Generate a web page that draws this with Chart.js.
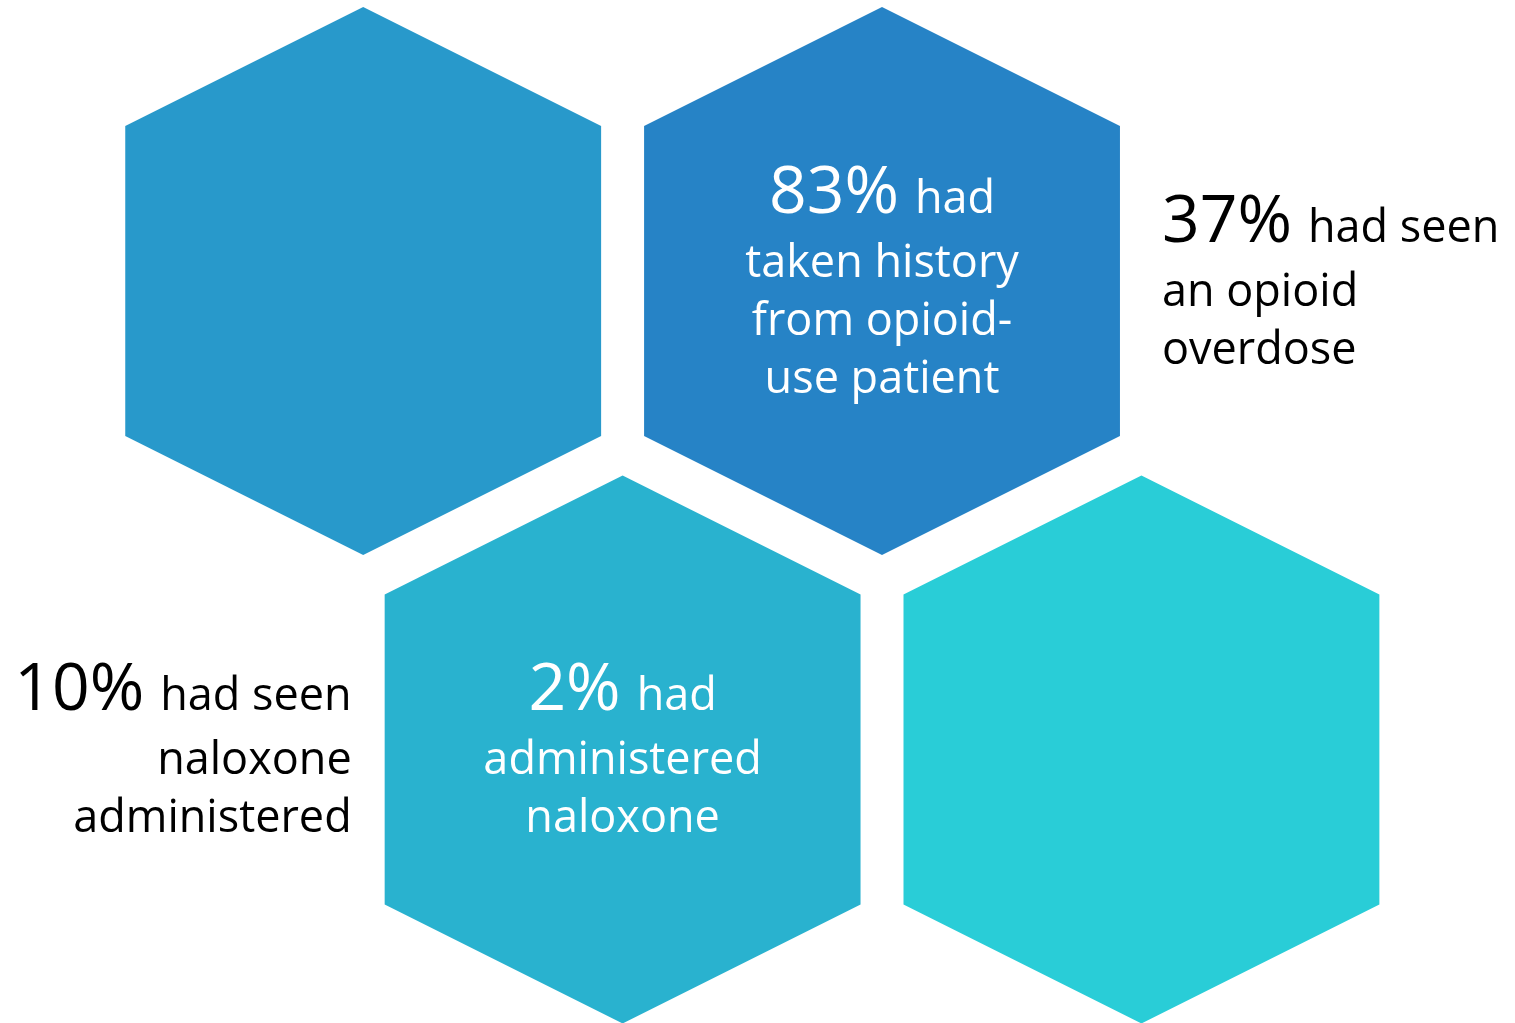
<!DOCTYPE html>
<html>
<head>
<meta charset="utf-8">
<script src="https://cdn.jsdelivr.net/npm/chart.js@4.4.1/dist/chart.umd.min.js"></script>
<style>
  html, body { margin: 0; padding: 0; background: #ffffff; overflow: hidden; }
  #wrap { width: 1515px; height: 1023px; }
</style>
</head>
<body>
<div id="wrap"><canvas id="hexChart" width="1515" height="1023"></canvas></div>
<script>
// hexagon grid (column, row) and fill colours
const hexCols = [0, 1, 0.5, 1.5];
const hexRows = [0, 0, 1, 1];
const hexColors = ["#2899cb", "#2683c6", "#29b2cf", "#29cdd7"];

// survey results
const statValues = [83, 37, 10, 2];
const statLines = [
  ["had", "taken history", "from opioid-", "use patient"],
  ["had seen", "an opioid", "overdose"],
  ["had seen", "naloxone", "administered"],
  ["had", "administered", "naloxone"]
];
const statHex = [1, 1, 2, 2];
const statPlace = ["inside", "right", "left", "inside"];

// hexagon shape in axis units
const HEX_W = 0.4586, HEX_TIP = 0.585, HEX_SHOULDER = 0.331;
const FONT = "'Open Sans', sans-serif";

function hexSize(chart, i) {
  const { x, y } = chart.scales;
  const cx = x.getPixelForValue(hexCols[i]);
  const cy = y.getPixelForValue(hexRows[i]);
  return {
    cx, cy,
    hw: Math.abs(x.getPixelForValue(hexCols[i] + HEX_W) - cx),
    tip: Math.abs(y.getPixelForValue(hexRows[i] + HEX_TIP) - cy),
    sh: Math.abs(y.getPixelForValue(hexRows[i] + HEX_SHOULDER) - cy)
  };
}

function drawStat(ctx, i, h) {
  const big = statValues[i] + "%";
  const lines = statLines[i];
  const place = statPlace[i];
  ctx.fillStyle = place === "inside" ? "#ffffff" : "#000000";
  ctx.textBaseline = "alphabetic";

  // text to the right of a hexagon is left-aligned, to the left is right-aligned
  let anchor = h.cx, align = "center";
  if (place === "right") { anchor = h.cx + h.hw + 42; align = "left"; }
  if (place === "left") { anchor = h.cx - h.hw - 33; align = "right"; }

  let base = h.cy + 19 - (lines.length - 1) * 29;

  ctx.font = "66px " + FONT;
  const wBig = ctx.measureText(big).width;
  ctx.font = "45px " + FONT;
  const wSmall = ctx.measureText(lines[0]).width;
  const gap = 16;
  const total = wBig + gap + wSmall;
  let start = anchor - total / 2;
  if (align === "left") start = anchor;
  if (align === "right") start = anchor - total;

  ctx.textAlign = "left";
  ctx.font = "66px " + FONT;
  ctx.fillText(big, start, base);
  ctx.font = "45px " + FONT;
  ctx.fillText(lines[0], start + wBig + gap, base);

  ctx.textAlign = align;
  base += 64;
  for (let k = 1; k < lines.length; k++) {
    ctx.fillText(lines[k], anchor, base);
    base += 58;
  }
}

const hexPlugin = {
  id: "hexagons",
  beforeDatasetsDraw(chart) {
    const ctx = chart.ctx;
    const pts = chart.getDatasetMeta(0).data;
    pts.forEach((p, i) => {
      const h = hexSize(chart, i);
      ctx.save();
      ctx.fillStyle = hexColors[i];
      ctx.beginPath();
      ctx.moveTo(p.x, p.y - h.tip);
      ctx.lineTo(p.x + h.hw, p.y - h.sh);
      ctx.lineTo(p.x + h.hw, p.y + h.sh);
      ctx.lineTo(p.x, p.y + h.tip);
      ctx.lineTo(p.x - h.hw, p.y + h.sh);
      ctx.lineTo(p.x - h.hw, p.y - h.sh);
      ctx.closePath();
      ctx.fill();
      ctx.restore();
    });
  },
  afterDatasetsDraw(chart) {
    const ctx = chart.ctx;
    ctx.save();
    statValues.forEach((v, i) => drawStat(ctx, i, hexSize(chart, statHex[i])));
    ctx.restore();
  }
};

new Chart(document.getElementById("hexChart"), {
  type: "scatter",
  data: {
    datasets: [{
      data: hexCols.map((c, i) => ({ x: c, y: hexRows[i] })),
      backgroundColor: hexColors,
      pointRadius: 0,
      pointHoverRadius: 0
    }]
  },
  options: {
    responsive: false,
    animation: false,
    events: [],
    layout: { padding: 0 },
    plugins: { legend: { display: false }, tooltip: { enabled: false } },
    scales: {
      x: { type: "linear", display: false, min: -0.7, max: 2.22 },
      y: { type: "linear", display: false, min: -0.6, max: 1.584, reverse: true }
    }
  },
  plugins: [hexPlugin]
});
</script>
</body>
</html>
